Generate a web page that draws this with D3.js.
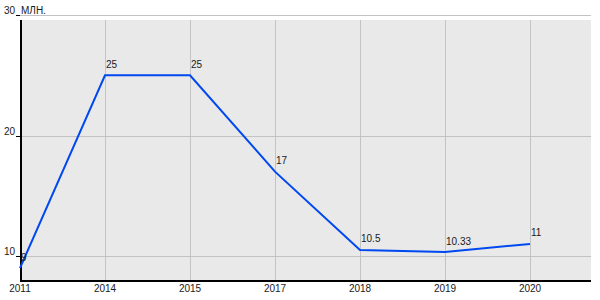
<!DOCTYPE html>
<html><head><meta charset="utf-8">
<script src="https://cdn.jsdelivr.net/npm/d3@7"></script>
<style>body{margin:0;background:#fff}svg{display:block}text{font-family:Arial,"Liberation Sans",sans-serif;font-size:10px;fill:#1a1a1a}</style>
</head><body><svg id="c" width="600" height="300"></svg>
<script>
const years = ["2011","2014","2015","2017","2018","2019","2020"];
const values = [9, 25, 25, 17, 10.5, 10.33, 11];
const valueLabels = ["9","25","25","17","10.5","10.33","11"];
const yTicks = [10, 20, 30];
const unitLabel = "МЛН.";

(function(){
const svg = d3.select("#c");
const pL = 20, pR = 591, pT = 20, pB = 280;
const x = d3.scalePoint().domain(years.concat(["_end"])).range([20, 615]);
const y = d3.scaleLinear().domain([10, 30]).range([256, 15]);

svg.append("rect").attr("x", pL).attr("y", pT).attr("width", pR-pL).attr("height", pB-pT).attr("fill", "#e9e9e9");

svg.append("g").selectAll("line").data(years.slice(1)).join("line")
  .attr("x1", d=>x(d)+0.5).attr("x2", d=>x(d)+0.5).attr("y1", pT).attr("y2", pB)
  .attr("stroke", "#c3c3c3").attr("stroke-width", 1);
svg.append("g").selectAll("line").data(yTicks).join("line")
  .attr("x1", pL).attr("x2", pR).attr("y1", d=>Math.round(y(d))+0.5).attr("y2", d=>Math.round(y(d))+0.5)
  .attr("stroke", "#c3c3c3").attr("stroke-width", 1);

svg.append("line").attr("x1", pL+1).attr("x2", pL+1).attr("y1", pT).attr("y2", pB+1).attr("stroke", "#000").attr("stroke-width", 2);
svg.append("line").attr("x1", pL).attr("x2", pR).attr("y1", pB+1).attr("y2", pB+1).attr("stroke", "#000").attr("stroke-width", 2);
svg.append("g").selectAll("line").data(yTicks).join("line")
  .attr("x1", pL-4).attr("x2", pL).attr("y1", d=>Math.round(y(d))+0.5).attr("y2", d=>Math.round(y(d))+0.5)
  .attr("stroke", "#000");
svg.append("g").selectAll("text").data(yTicks).join("text")
  .attr("x", 15).attr("y", d=>y(d)-1).attr("text-anchor", "end").text(d=>d);
svg.append("text").attr("x", 21).attr("y", 13.5).text(unitLabel);

svg.append("g").selectAll("text").data(years).join("text")
  .attr("x", d=>x(d)).attr("y", 292).attr("text-anchor", "middle").text(d=>d);

const line = d3.line().x((d,i)=>x(years[i])).y(d=>y(d));
svg.append("path").datum(values).attr("d", line).attr("fill", "none")
  .attr("stroke", "#0048f0").attr("stroke-width", 2);

svg.append("g").selectAll("text").data(values).join("text")
  .attr("x", (d,i)=>x(years[i])+1).attr("y", d=>y(d)-7.5).text((d,i)=>valueLabels[i]);
})();
</script></body></html>
